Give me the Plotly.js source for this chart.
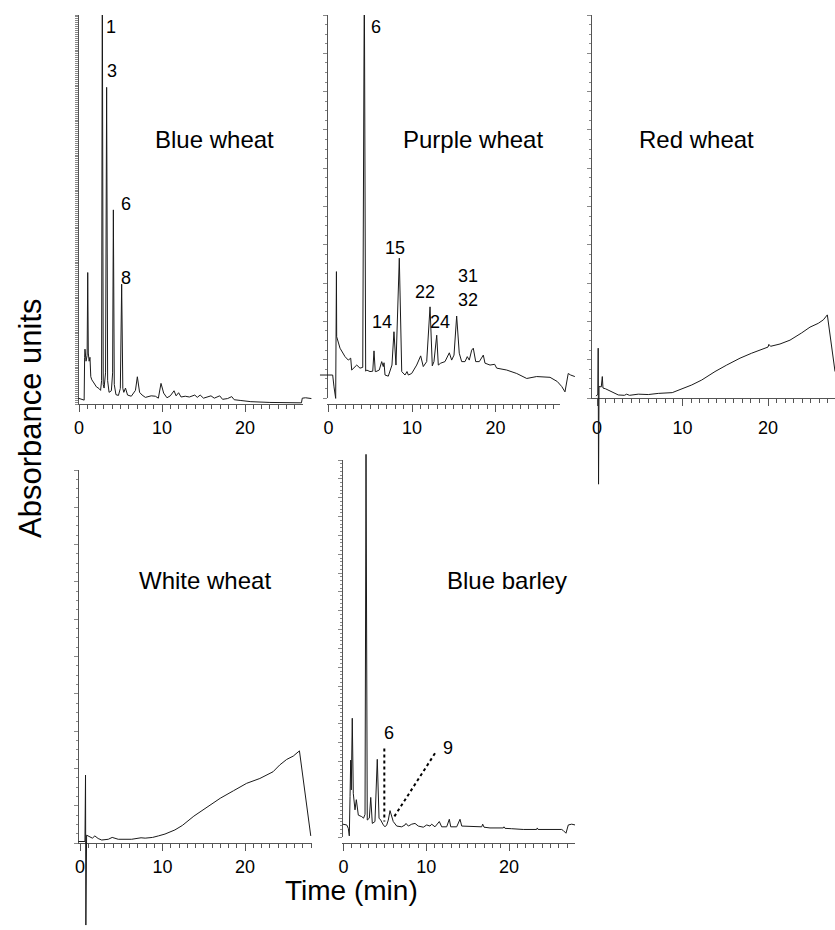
<!DOCTYPE html>
<html><head><meta charset="utf-8">
<script src="https://cdn.plot.ly/plotly-3.0.1.min.js"></script>
<style>html,body{margin:0;padding:0;background:#fff}</style>
</head><body>
<div id="chart" style="width:835px;height:930px"></div>
<script>
// ---------- data (time in min, absorbance in arbitrary units) ----------
const panelNames = ['Blue wheat', 'Purple wheat', 'Red wheat', 'White wheat', 'Blue barley'];

const blueWheatTime = [-0.1, 0.5, 0.62, 0.68, 0.72, 0.85, 0.98, 1.05, 1.12, 1.22, 1.32, 1.42, 1.55, 1.8, 2.1, 2.4, 2.6, 2.72, 2.81, 2.92, 3.02, 3.2, 3.33, 3.45, 3.62, 3.9, 4.05, 4.14, 4.25, 4.45, 4.75, 4.98, 5.14, 5.28, 5.4, 5.6, 5.85, 6.3, 6.8, 7.03, 7.3, 7.6, 8.0, 8.7, 9.2, 9.56, 9.88, 10.2, 10.6, 11.0, 11.45, 11.7, 12.0, 12.3, 12.8, 13.3, 13.95, 14.25, 14.6, 15.0, 15.5, 15.9, 16.3, 16.95, 17.3, 17.9, 18.4, 18.7, 19.5, 20.7, 23.0, 26.8, 26.9, 27.3, 28.0];
const blueWheatAbs  = [1.5, 1.0, 1.0, 12, 14.1, 11.0, 12.5, 33.8, 13.1, 11.0, 12, 7, 6.2, 5.4, 4.4, 4.0, 3.5, 6, 110, 5, 4.1, 8, 81.4, 6, 3.0, 3.4, 8, 49.9, 5, 2.4, 2.2, 4, 30.8, 4, 3.0, 4.1, 2.3, 2.0, 3.5, 7.0, 3, 2.3, 1.7, 2.1, 2.0, 1.5, 5.3, 2.8, 1.6, 2.1, 3.4, 2.1, 2.9, 1.8, 2.0, 1.8, 2.3, 1.7, 2.3, 1.5, 1.8, 2.1, 1.5, 2.1, 1.2, 1.4, 1.9, 1.1, 0.9, 0.6, 0.4, 0.3, 1.5, 1.6, 1.4];

const purpleWheatTime = [-1.02, 0.5, 0.66, 0.86, 0.95, 0.98, 1.38, 1.98, 2.37, 2.66, 2.78, 3.38, 3.77, 4.1, 4.29, 4.45, 4.57, 4.97, 5.3, 5.45, 5.6, 5.69, 6.08, 6.37, 6.56, 6.65, 6.77, 7.16, 7.6, 7.84, 8.08, 8.48, 8.77, 9.16, 9.4, 9.56, 9.96, 10.56, 11.04, 11.35, 11.76, 12.16, 12.43, 12.63, 12.96, 13.15, 13.44, 13.95, 14.47, 14.75, 15.03, 15.35, 15.66, 15.95, 16.35, 16.62, 16.86, 17.15, 17.34, 17.63, 18.06, 18.54, 18.74, 19.34, 19.9, 20.14, 21.34, 22.54, 23.74, 24.93, 26.53, 27.4, 27.93, 28.32, 28.71, 29.0, 29.5];
const purpleWheatAbs  = [6.0, 6.0, 2.9, -0.1, 33.0, 16.0, 13.0, 10.8, 9.9, 10.4, 7.3, 8.6, 7.8, 8, 110, 7, 7.3, 6.9, 7, 12.3, 6.9, 6.9, 7.3, 9.5, 8.2, 9.2, 6.0, 5.7, 8.6, 17.3, 8.6, 36.5, 6.9, 6.0, 6.9, 6.0, 6.4, 8.6, 11.0, 8.2, 9.5, 23.8, 8.4, 9.5, 16.4, 8.6, 9.1, 9.5, 11.8, 9.9, 11.2, 21.4, 11.7, 9.5, 9.5, 10.8, 9.9, 12.5, 13.0, 9.5, 9.5, 11.2, 9.1, 8.6, 8.8, 7.8, 7.3, 6.4, 5.1, 5.6, 5.4, 4.3, 3.0, 1.6, 6.4, 6.0, 5.6];

const redWheatTime = [-0.1, 0.1, 0.14, 0.18, 0.24, 0.5, 0.62, 0.7, 1.0, 1.72, 2.49, 3.2, 3.47, 3.8, 4.83, 6.0, 7.17, 8.8, 9.9, 11.08, 12.25, 13.8, 15.17, 16.73, 18.09, 20.0, 20.1, 20.3, 21.4, 22.57, 23.94, 24.91, 25.88, 26.47, 26.94, 27.84];
const redWheatAbs  = [0.5, 1.0, 13.0, -22.5, 3.0, 2.9, 5.6, 2.6, 2.4, 1.6, 0.8, 0.7, 1.0, 0.7, 1.0, 0.9, 1.2, 1.4, 2.3, 3.4, 4.7, 6.9, 8.6, 10.4, 11.7, 13.3, 14.0, 13.5, 14.1, 15.1, 17.0, 18.5, 19.5, 20.4, 21.7, 6.9];

const whiteWheatTime = [-0.2, 0.6, 0.67, 0.71, 0.8, 1.21, 1.5, 1.8, 2.2, 2.63, 3.43, 3.9, 4.64, 6.26, 7.4, 7.9, 8.8, 9.5, 10.3, 11.5, 12.4, 13.8, 15.4, 17.0, 18.6, 20.2, 21.8, 23.4, 24.2, 25.05, 25.85, 26.6, 27.97];
const whiteWheatAbs  = [0.4, 0.4, 18.2, -22.0, 2.1, 1.5, 1.3, 1.9, 1.2, 0.8, 1.0, 1.5, 1.0, 1.0, 1.4, 1.3, 1.5, 1.9, 2.4, 3.5, 4.7, 7.2, 9.7, 12.0, 14.0, 16.0, 17.3, 19.1, 20.9, 22.4, 23.3, 24.7, 1.9];

const blueBarleyTime = [-0.1, 0.39, 0.58, 0.7, 0.79, 0.87, 0.94, 1.06, 1.18, 1.39, 1.55, 1.79, 2.2, 2.42, 2.6, 2.72, 2.87, 3.12, 3.29, 3.48, 3.8, 4.08, 4.29, 4.49, 4.81, 5.01, 5.22, 5.41, 5.62, 5.82, 6.01, 6.43, 7.03, 7.43, 7.55, 7.83, 8.24, 8.64, 9.03, 9.64, 10.05, 10.45, 10.65, 11.05, 11.57, 11.86, 12.46, 12.78, 12.95, 13.67, 14.07, 14.28, 14.88, 15.68, 16.69, 16.81, 16.97, 17.69, 19.3, 19.38, 19.5, 20.31, 21.71, 23.33, 23.4, 23.5, 24.94, 26.35, 26.55, 26.87, 27.15, 27.56, 27.96];
const blueBarleyAbs  = [3.4, 3.2, 2.3, 0.3, 10.7, 20.4, 12.5, 31.5, 11.6, 7.2, 9.9, 5.8, 5.4, 5.0, 6, 101.5, 4.5, 5.0, 10.5, 3.6, 4.1, 20.6, 5.0, 4.5, 3.2, 2.7, 3.2, 4.5, 7.0, 5.4, 4.1, 2.9, 2.7, 3.2, 3.6, 2.9, 3.4, 3.6, 2.9, 2.6, 3.2, 2.9, 3.4, 2.7, 4.1, 2.7, 2.7, 4.7, 2.7, 2.7, 4.7, 2.9, 2.9, 2.7, 2.7, 3.4, 2.6, 2.4, 2.4, 2.7, 2.3, 2.2, 2.0, 2.0, 2.4, 2.0, 2.0, 2.0, 1.7, 1.0, 3.2, 3.4, 3.2];

const blueWheatPeaks   = ['1', '3', '6', '8'];
const purpleWheatPeaks = ['6', '15', '14', '22', '24', '31', '32'];
const blueBarleyPeaks  = ['6', '9'];

// ---------- layout ----------
const W = 835, H = 930;
const FONT = 'Liberation Sans, Arial, Helvetica, sans-serif';
const AX = '#555';
const TICKSIZE = 18;
const px = x => x / W;
const py = y => 1 - y / H;

const series = [
  [blueWheatTime, blueWheatAbs],
  [purpleWheatTime, purpleWheatAbs],
  [redWheatTime, redWheatAbs],
  [whiteWheatTime, whiteWheatAbs],
  [blueBarleyTime, blueBarleyAbs]
];

// pixel geometry of each panel
const geo = [
  {x0: 79,    ppm: 8.3,  xa: [78, 303],  xAxisY: 404, yAxisX: 78,  yDom: [15, 404],  clipTop: 15,  so: 0, yt: {d: 0.5, len: 3, m: null}, title: [214, 140]},
  {x0: 328.5, ppm: 8.35, xa: [327, 560], xAxisY: 404, yAxisX: 327, yDom: [15, 398],  clipTop: 15,  so: 0, yt: {d: 10, len: 4, m: 2.5},  title: [473, 140]},
  {x0: 597,   ppm: 8.55, xa: [590, 835], xAxisY: 398, yAxisX: 591, yDom: [15, 398],  clipTop: 15,  so: 6, yt: {d: 10, len: 4, m: 2.5},  title: [696, 140]},
  {x0: 80,    ppm: 8.25, xa: [78, 312],  xAxisY: 843, yAxisX: 78,  yDom: [470, 843], clipTop: 470, so: 0, yt: {d: 10, len: 4, m: 2.5},  title: [205, 580]},
  {x0: 343.5, ppm: 8.28, xa: [342, 575], xAxisY: 843, yAxisX: 342, yDom: [460, 837], clipTop: 450, so: 0, yt: {d: 5, len: 4, m: 1},    title: [507.5, 580]}
];

const layout = {
  width: W, height: H,
  margin: {l: 0, r: 0, t: 0, b: 0},
  paper_bgcolor: '#fff', plot_bgcolor: 'rgba(0,0,0,0)',
  showlegend: false,
  font: {family: FONT, color: '#000', size: TICKSIZE},
  annotations: [], shapes: []
};
const traces = [];

geo.forEach((g, i) => {
  const n = i + 1, m = i + 6;
  const sfx = n === 1 ? '' : String(n);
  const xmin = (g.xa[0] - g.x0) / g.ppm, xmax = (g.xa[1] - g.x0) / g.ppm;
  layout['xaxis' + sfx] = {
    domain: [px(g.xa[0]), px(g.xa[1])], range: [xmin, xmax],
    anchor: 'free', position: py(g.xAxisY),
    showgrid: false, zeroline: false, showline: true, linecolor: AX, linewidth: 1,
    ticks: 'outside', ticklen: 7, tickwidth: 1, tickcolor: AX, tick0: 0, dtick: 10,
    ticklabelstandoff: g.so,
    minor: {ticks: 'outside', dtick: 1, ticklen: 4, tickcolor: AX, tickwidth: 1, showgrid: false},
    tickfont: {size: TICKSIZE, family: FONT, color: '#000'}, fixedrange: true
  };
  const yaxis = {
    domain: [py(g.yDom[1]), py(g.yDom[0])], range: [0, 100],
    anchor: 'free', position: px(g.yAxisX),
    showgrid: false, zeroline: false, showline: true, linecolor: AX, linewidth: 1,
    ticks: 'outside', ticklen: g.yt.len, tickwidth: 1, tickcolor: '#888', tick0: 0, dtick: g.yt.d,
    showticklabels: false, fixedrange: true
  };
  if (g.yt.m) yaxis.minor = {ticks: 'outside', dtick: g.yt.m, ticklen: 2, tickcolor: '#888', tickwidth: 1, showgrid: false};
  layout['yaxis' + sfx] = yaxis;
  // placeholder (no visible mark) so that the frame subplot exists
  traces.push({x: [null], y: [null], xaxis: 'x' + sfx, yaxis: 'y' + sfx, mode: 'lines', hoverinfo: 'skip'});

  // data subplot (invisible axes) aligned with the frame, extended so spikes are not clipped
  const dl = g.yAxisX - 12, dr = Math.min(W, g.xa[1] + 20);
  const sy = (g.yDom[1] - g.yDom[0]) / 100;
  const dtop = g.clipTop, dbot = H;
  layout['xaxis' + m] = {domain: [px(dl), px(dr)], range: [(dl - g.x0) / g.ppm, (dr - g.x0) / g.ppm], visible: false, anchor: 'y' + m, fixedrange: true};
  layout['yaxis' + m] = {domain: [py(dbot), py(dtop)], range: [(g.yDom[1] - dbot) / sy, (g.yDom[1] - dtop) / sy], visible: false, anchor: 'x' + m, fixedrange: true};
  traces.push({
    x: series[i][0], y: series[i][1], xaxis: 'x' + m, yaxis: 'y' + m,
    mode: 'lines', line: {color: '#1a1a1a', width: 1}, hoverinfo: 'skip'
  });

  layout.annotations.push({
    text: panelNames[i], xref: 'paper', yref: 'paper', x: px(g.title[0]), y: py(g.title[1]),
    xanchor: 'center', yanchor: 'middle', showarrow: false, font: {size: 24, family: FONT, color: '#000'}
  });
});

// peak labels (pixel positions of the label text)
const peakPos = [
  [blueWheatPeaks, [[111, 27], [111.5, 71], [126, 204], [126, 278]]],
  [purpleWheatPeaks, [[376, 27], [395, 248], [382, 322], [425, 292], [440, 322], [467.5, 276], [468.5, 300]]],
  [blueBarleyPeaks, [[389, 733], [448, 748]]]
];
peakPos.forEach(([labels, pos]) => {
  labels.forEach((lab, k) => {
    layout.annotations.push({
      text: lab, xref: 'paper', yref: 'paper', x: px(pos[k][0]), y: py(pos[k][1]),
      xanchor: 'center', yanchor: 'middle', showarrow: false, font: {size: 18, family: FONT, color: '#000'}
    });
  });
});

// dotted leader lines in the Blue barley panel (time, absorbance)
layout.shapes.push(
  {type: 'line', xref: 'x5', yref: 'y5', x0: 4.93, y0: 23.5, x1: 4.93, y1: 4.1, line: {color: '#000', width: 2, dash: 'dot'}},
  {type: 'line', xref: 'x5', yref: 'y5', x0: 11.05, y0: 22.2, x1: 6.01, y1: 5.0, line: {color: '#000', width: 2, dash: 'dot'}}
);

// global axis titles
layout.annotations.push(
  {text: 'Absorbance units', xref: 'paper', yref: 'paper', x: px(30), y: py(418), textangle: -90,
   xanchor: 'center', yanchor: 'middle', showarrow: false, font: {size: 31, family: FONT, color: '#000'}},
  {text: 'Time (min)', xref: 'paper', yref: 'paper', x: px(351), y: py(890),
   xanchor: 'center', yanchor: 'middle', showarrow: false, font: {size: 28, family: FONT, color: '#000'}}
);

Plotly.newPlot('chart', traces, layout, {displayModeBar: false, staticPlot: true});
</script>
</body></html>
